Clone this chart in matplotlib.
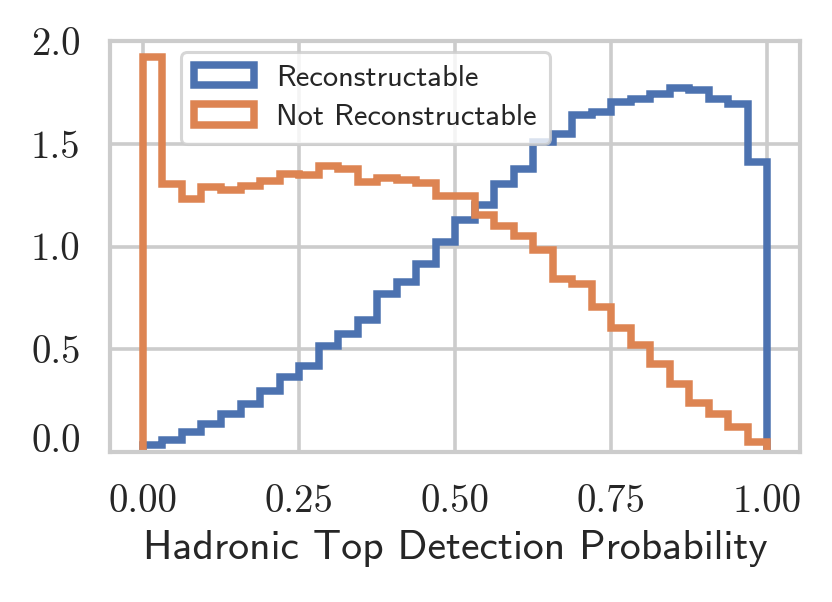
import matplotlib
matplotlib.use("Agg")
import matplotlib.pyplot as plt
import numpy as np
import seaborn as sns

# 32 equal bins on [0, 1], normalised densities
bin_edges = np.linspace(0.0, 1.0, 33)

reconstructable = [
    0.033, 0.060, 0.097, 0.135, 0.185, 0.234, 0.295, 0.365,
    0.417, 0.514, 0.573, 0.644, 0.770, 0.827, 0.916, 1.022,
    1.127, 1.200, 1.302, 1.379, 1.507, 1.549, 1.638, 1.654,
    1.703, 1.719, 1.740, 1.771, 1.760, 1.719, 1.692, 1.411,
]
not_reconstructable = [
    1.920, 1.306, 1.230, 1.290, 1.277, 1.293, 1.321, 1.354,
    1.346, 1.394, 1.378, 1.313, 1.334, 1.325, 1.307, 1.244,
    1.245, 1.152, 1.100, 1.050, 0.985, 0.842, 0.816, 0.707,
    0.605, 0.519, 0.427, 0.331, 0.238, 0.183, 0.120, 0.050,
]

series_labels = ["Reconstructable", "Not Reconstructable"]
xticks = [0.0, 0.25, 0.5, 0.75, 1.0]
xtick_labels = ["0.00", "0.25", "0.50", "0.75", "1.00"]
yticks = [0.0, 0.5, 1.0, 1.5, 2.0]
ytick_labels = ["0.0", "0.5", "1.0", "1.5", "2.0"]

sns.set_theme(style="whitegrid")
plt.rcParams["font.family"] = ["cmss10", "DejaVu Sans"]
plt.rcParams["axes.formatter.use_mathtext"] = True

colors = sns.color_palette("deep")

fig = plt.figure(figsize=(4.16, 3.01), dpi=200)
ax = fig.add_axes([0.132, 0.249, 0.8295, 0.683])

centers = bin_edges[:-1]
for vals, lab, c in zip([reconstructable, not_reconstructable], series_labels, colors):
    ax.hist(centers, bins=bin_edges, weights=vals, histtype="step",
            linewidth=2.7, color=c, label=lab)

ax.set_xlim(-0.053, 1.052)
ax.set_ylim(0, 2.0)
ax.set_xticks(xticks, xtick_labels, fontfamily="cmr10", fontsize=14)
ax.set_yticks(yticks, ytick_labels, fontfamily="cmr10", fontsize=14)
ax.tick_params(axis="x", pad=11.5, length=0)
ax.tick_params(axis="y", pad=10.5, length=0)
# bottom label sits on the axis line, as in the original
ax.get_yticklabels()[0].set_va("baseline")

ax.grid(True, color="0.8", linewidth=1.3)
for s in ax.spines.values():
    s.set_color("0.8")
    s.set_linewidth(1.5)

ax.set_xlabel("Hadronic Top Detection Probability", fontsize=15.0, labelpad=3.5,
              color="0.15")

leg = ax.legend(loc="upper left", bbox_to_anchor=(0.09, 0.995), fontsize=11.0,
                frameon=True, borderaxespad=0.3, borderpad=0.42, handlelength=1.95,
                handleheight=0.65, handletextpad=0.75, labelspacing=0.4)
leg.get_frame().set_edgecolor("0.8")
leg.get_frame().set_linewidth(1.1)

fig.savefig("out.png", dpi=200)
